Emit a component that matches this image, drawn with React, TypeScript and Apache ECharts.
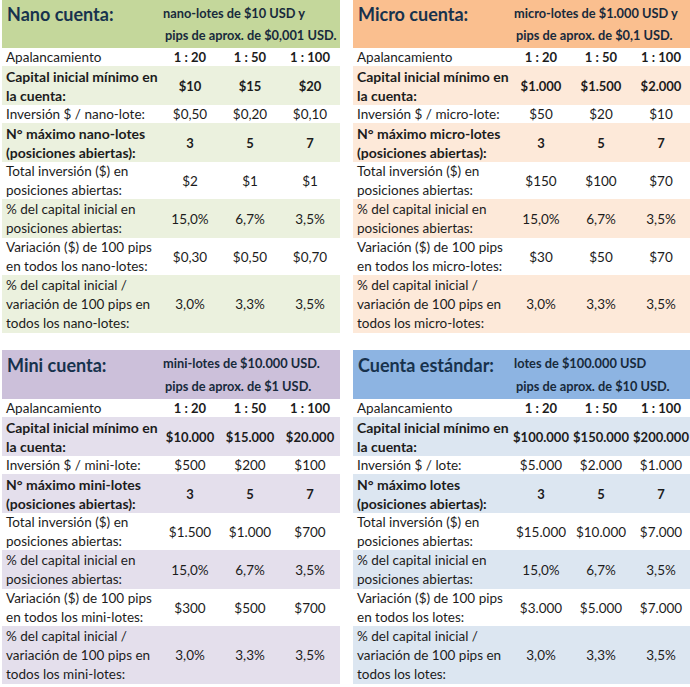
import React, { useEffect, useRef } from "react";
import * as echarts from "echarts";

const panelTitles = ["Nano cuenta:", "Micro cuenta:", "Mini cuenta:", "Cuenta estándar:"];
const panelSubtitles = [
  ["nano-lotes de $10 USD y", "pips de aprox. de $0,001 USD."],
  ["micro-lotes de $1.000 USD y", "pips de aprox. de $0,1 USD."],
  ["mini-lotes de $10.000 USD.", "pips de aprox. de $1 USD."],
  ["lotes de $100.000 USD", "pips de aprox. de $10 USD."],
];
const headerColors = ["#c4d79b", "#fabf8f", "#ccc0da", "#8db4e2"];
const bandColors = ["#ebf1de", "#fde9d9", "#e4dfec", "#dce6f1"];

const leverage = ["1 : 20", "1 : 50", "1 : 100"];

const nanoLabels = [
  "Apalancamiento",
  "Capital inicial mínimo en\nla cuenta:",
  "Inversión $ / nano-lote:",
  "N° máximo nano-lotes\n(posiciones abiertas):",
  "Total inversión ($) en\nposiciones abiertas:",
  "% del capital inicial en\nposiciones abiertas:",
  "Variación ($) de 100 pips\nen todos los nano-lotes:",
  "% del capital inicial /\nvariación de 100 pips en\ntodos los nano-lotes:",
];
const microLabels = [
  "Apalancamiento",
  "Capital inicial mínimo en\nla cuenta:",
  "Inversión $ / micro-lote:",
  "N° máximo micro-lotes\n(posiciones abiertas):",
  "Total inversión ($) en\nposiciones abiertas:",
  "% del capital inicial en\nposiciones abiertas:",
  "Variación ($) de 100 pips\nen todos los micro-lotes:",
  "% del capital inicial /\nvariación de 100 pips en\ntodos los micro-lotes:",
];
const miniLabels = [
  "Apalancamiento",
  "Capital inicial mínimo en\nla cuenta:",
  "Inversión $ / mini-lote:",
  "N° máximo mini-lotes\n(posiciones abiertas):",
  "Total inversión ($) en\nposiciones abiertas:",
  "% del capital inicial en\nposiciones abiertas:",
  "Variación ($) de 100 pips\nen todos los mini-lotes:",
  "% del capital inicial /\nvariación de 100 pips en\ntodos los mini-lotes:",
];
const standardLabels = [
  "Apalancamiento",
  "Capital inicial mínimo en\nla cuenta:",
  "Inversión $ / lote:",
  "N° máximo lotes\n(posiciones abiertas):",
  "Total inversión ($) en\nposiciones abiertas:",
  "% del capital inicial en\nposiciones abiertas:",
  "Variación ($) de 100 pips\nen todos los lotes:",
  "% del capital inicial /\nvariación de 100 pips en\ntodos los lotes:",
];

const maxLots = ["3", "5", "7"];
const pctCapital = ["15,0%", "6,7%", "3,5%"];
const pctVariation = ["3,0%", "3,3%", "3,5%"];

const nanoCapital = ["$10", "$15", "$20"];
const nanoInvest = ["$0,50", "$0,20", "$0,10"];
const nanoTotal = ["$2", "$1", "$1"];
const nanoVariation = ["$0,30", "$0,50", "$0,70"];

const microCapital = ["$1.000", "$1.500", "$2.000"];
const microInvest = ["$50", "$20", "$10"];
const microTotal = ["$150", "$100", "$70"];
const microVariation = ["$30", "$50", "$70"];

const miniCapital = ["$10.000", "$15.000", "$20.000"];
const miniInvest = ["$500", "$200", "$100"];
const miniTotal = ["$1.500", "$1.000", "$700"];
const miniVariation = ["$300", "$500", "$700"];

const stdCapital = ["$100.000", "$150.000", "$200.000"];
const stdInvest = ["$5.000", "$2.000", "$1.000"];
const stdTotal = ["$15.000", "$10.000", "$7.000"];
const stdVariation = ["$3.000", "$5.000", "$7.000"];

const panelLabels = [nanoLabels, microLabels, miniLabels, standardLabels];
const panelValues = [
  [leverage, nanoCapital, nanoInvest, maxLots, nanoTotal, pctCapital, nanoVariation, pctVariation],
  [leverage, microCapital, microInvest, maxLots, microTotal, pctCapital, microVariation, pctVariation],
  [leverage, miniCapital, miniInvest, maxLots, miniTotal, pctCapital, miniVariation, pctVariation],
  [leverage, stdCapital, stdInvest, maxLots, stdTotal, pctCapital, stdVariation, pctVariation],
];

// layout
const panelX = [2, 353, 2, 353];
const panelY = [0, 0, 350, 350];
const panelW = [338, 337, 338, 337];
const headerH = [48, 48, 49, 49];
const rowH = [18, 39, 18, 39, 37, 39, 37, 58];
const rowBanded = [false, true, false, true, false, true, false, true];
const rowLabelBold = [false, true, false, true, false, false, false, false];
const rowValueBold = [true, true, false, true, false, false, false, false];
const colCenters = [188, 248, 308];

const FONT = "Lato";
const BODY = "#1c1c1c";

function buildGraphic() {
  const els: any[] = [];
  for (let p = 0; p < 4; p++) {
    const px = panelX[p];
    const py = panelY[p];
    const pw = panelW[p];
    const hh = headerH[p];
    els.push({ type: "rect", shape: { x: px, y: py, width: pw, height: hh }, style: { fill: headerColors[p] }, silent: true });
    els.push({
      type: "text",
      x: px + 5,
      y: py + hh / 2 - 10,
      style: { text: panelTitles[p], font: `bold 18px ${FONT}`, fill: "#17324d", textAlign: "left", textVerticalAlign: "middle" },
    });
    els.push({
      type: "text",
      x: px + 161,
      y: py + 13,
      style: { text: panelSubtitles[p][0], font: `bold 12.8px ${FONT}`, fill: "#182a3c", textAlign: "left", textVerticalAlign: "middle" },
    });
    els.push({
      type: "text",
      x: px + 163,
      y: py + hh - 13,
      style: { text: panelSubtitles[p][1], font: `bold 12.8px ${FONT}`, fill: "#182a3c", textAlign: "left", textVerticalAlign: "middle" },
    });
    let y = py + hh;
    for (let r = 0; r < rowH.length; r++) {
      const h = rowH[r];
      if (rowBanded[r]) {
        els.push({ type: "rect", shape: { x: px, y, width: pw, height: h }, style: { fill: bandColors[p] }, silent: true });
      }
      els.push({
        type: "text",
        x: px + 4,
        y: y + h / 2,
        style: {
          text: panelLabels[p][r],
          font: rowLabelBold[r] ? `bold 14px ${FONT}` : `13.5px ${FONT}`,
          lineHeight: 19,
          fill: BODY,
          textAlign: "left",
          textVerticalAlign: "middle",
        },
      });
      const vals = panelValues[p][r];
      for (let c = 0; c < 3; c++) {
        els.push({
          type: "text",
          x: px + colCenters[c],
          y: y + h / 2,
          style: {
            text: vals[c],
            font: rowValueBold[r] ? `bold 13px ${FONT}` : `13.5px ${FONT}`,
            fill: BODY,
            textAlign: "center",
            textVerticalAlign: "middle",
          },
        });
      }
      y += h;
    }
  }
  return els;
}

export default function App() {
  const ref = useRef<HTMLDivElement>(null);
  useEffect(() => {
    if (!ref.current) return;
    const chart = echarts.init(ref.current, null, { renderer: "svg" });
    chart.setOption({
      animation: false,
      backgroundColor: "#ffffff",
      graphic: { elements: buildGraphic() },
    });
    return () => chart.dispose();
  }, []);
  return <div ref={ref} style={{ position: "absolute", left: 0, top: 0, width: 690, height: 687 }} />;
}
